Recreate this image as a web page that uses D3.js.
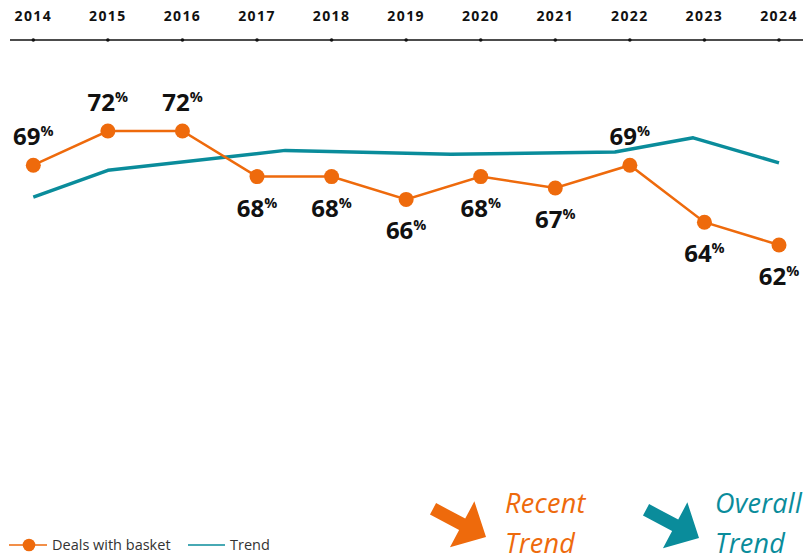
<!DOCTYPE html>
<html>
<head>
<meta charset="utf-8">
<script src="https://cdn.jsdelivr.net/npm/d3@7"></script>
<style>
  body { margin: 0; background: #fff; }
  svg { display: block; font-family: "Open Sans", sans-serif; }
</style>
</head>
<body>
<div id="chart"></div>
<script>
// data
const years = [2014, 2015, 2016, 2017, 2018, 2019, 2020, 2021, 2022, 2023, 2024];
const dealsWithBasket = [69, 72, 72, 68, 68, 66, 68, 67, 69, 64, 62];
const labelAbove = [true, true, true, false, false, false, false, false, true, false, false];
const trendX = [2014, 2015, 2017.38, 2019.6, 2021.8, 2022.85, 2024];
const trendValues = [66.2, 68.55, 70.3, 69.95, 70.15, 71.4, 69.2];
const legendItems = ['Deals with basket', 'Trend'];
const trendNotes = [['Recent', 'Trend'], ['Overall', 'Trend']];

const ORANGE = '#ee6a0c';
const TEAL = '#0a8c9b';

function drawChart() {
  const WIDTH = 807;
  const HEIGHT = 555;

  const svg = d3.select('#chart').append('svg')
    .attr('width', WIDTH)
    .attr('height', HEIGHT);

  // scales
  const x = d3.scaleLinear()
    .domain([2014, 2024])
    .range([33.3, 779]);
  const y = d3.scaleLinear()
    .domain([62, 72])
    .range([245, 131]);

  // top axis
  const axisY = 40;
  svg.append('line')
    .attr('x1', 10).attr('x2', 803)
    .attr('y1', axisY).attr('y2', axisY)
    .attr('stroke', '#111')
    .attr('stroke-width', 1.3);

  svg.selectAll('.tick-dot')
    .data(years)
    .join('circle')
      .attr('class', 'tick-dot')
      .attr('cx', d => x(d))
      .attr('cy', axisY)
      .attr('r', 1.8)
      .attr('fill', '#111');

  svg.selectAll('.year')
    .data(years)
    .join('text')
      .attr('class', 'year')
      .attr('x', d => x(d))
      .attr('y', 21)
      .attr('text-anchor', 'middle')
      .attr('font-size', 14)
      .attr('font-weight', 700)
      .attr('letter-spacing', 1.4)
      .attr('fill', '#111')
      .text(d => d);

  // trend line
  const trendLine = d3.line()
    .x(d => x(d[0]))
    .y(d => y(d[1]));

  svg.append('path')
    .datum(d3.zip(trendX, trendValues))
    .attr('fill', 'none')
    .attr('stroke', TEAL)
    .attr('stroke-width', 3.5)
    .attr('stroke-linejoin', 'round')
    .attr('d', trendLine);

  // deals line
  const dealsData = d3.zip(years, dealsWithBasket);
  svg.append('path')
    .datum(dealsData)
    .attr('fill', 'none')
    .attr('stroke', ORANGE)
    .attr('stroke-width', 2.5)
    .attr('d', trendLine);

  svg.selectAll('.dot')
    .data(dealsData)
    .join('circle')
      .attr('class', 'dot')
      .attr('cx', d => x(d[0]))
      .attr('cy', d => y(d[1]))
      .attr('r', 7.5)
      .attr('fill', ORANGE);

  // value labels
  const labels = svg.selectAll('.label')
    .data(dealsData)
    .join('text')
      .attr('class', 'label')
      .attr('x', d => x(d[0]))
      .attr('y', (d, i) => y(d[1]) + (labelAbove[i] ? -20 : 40))
      .attr('text-anchor', 'middle')
      .attr('font-weight', 700)
      .attr('fill', '#111');
  labels.append('tspan')
    .attr('font-size', 24)
    .text(d => d[1]);
  labels.append('tspan')
    .attr('font-size', 14.5)
    .attr('dy', -9)
    .text('%');

  // legend
  const ly = 545;
  const legend = svg.append('g');
  legend.append('line')
    .attr('x1', 9).attr('x2', 47)
    .attr('y1', ly).attr('y2', ly)
    .attr('stroke', ORANGE).attr('stroke-width', 1.5);
  legend.append('circle')
    .attr('cx', 29).attr('cy', ly).attr('r', 6.3)
    .attr('fill', ORANGE);
  legend.append('line')
    .attr('x1', 188).attr('x2', 225)
    .attr('y1', ly).attr('y2', ly)
    .attr('stroke', TEAL).attr('stroke-width', 1.5);
  legend.selectAll('text')
    .data(legendItems)
    .join('text')
      .attr('x', (d, i) => [52, 230][i])
      .attr('y', ly + 5)
      .attr('font-size', 14.5)
      .attr('fill', '#333')
      .text(d => d);

  // trend arrows + notes
  const arrowPath = 'M0,0 L-27,-26 L-27,-6.5 L-60,-6.5 L-60,6.5 L-27,6.5 L-27,26 Z';
  const notes = [
    {tip: [486, 537], textX: 505, color: ORANGE},
    {tip: [699, 538], textX: 715, color: TEAL}
  ];
  notes.forEach((n, i) => {
    svg.append('path')
      .attr('d', arrowPath)
      .attr('fill', n.color)
      .attr('transform', `translate(${n.tip[0]},${n.tip[1]}) rotate(28)`);
    svg.append('g')
      .selectAll('text')
      .data(trendNotes[i])
      .join('text')
        .attr('x', n.textX)
        .attr('y', (d, j) => 513 + j * 40)
        .attr('font-size', 27)
        .attr('font-style', 'italic')
        .attr('font-weight', 400)
        .attr('letter-spacing', 0.3)
        .attr('fill', n.color)
        .text(d => d);
  });
}

(function main() {
  drawChart();
})();
</script>
</body>
</html>
